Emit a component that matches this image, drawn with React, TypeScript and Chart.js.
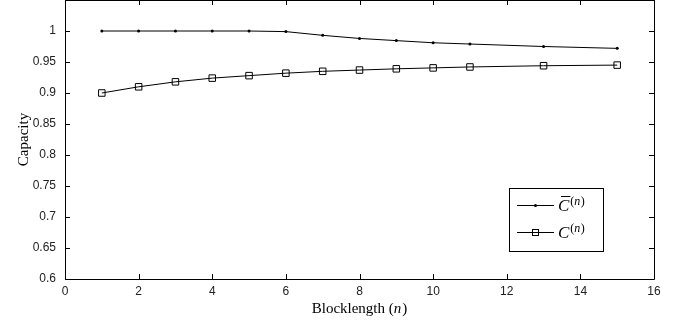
import React, { useEffect, useRef } from 'react';
import { Chart, registerables } from 'chart.js';
Chart.register(...registerables);

const blocklengths = [1, 2, 3, 4, 5, 6, 7, 8, 9, 10, 11, 13, 15];
const cBar = [1.0, 1.0, 1.0, 1.0, 1.0, 0.999, 0.993, 0.988, 0.9845, 0.981, 0.979, 0.975, 0.972];
const cN = [0.9, 0.91, 0.918, 0.924, 0.928, 0.932, 0.935, 0.937, 0.939, 0.9405, 0.942, 0.944, 0.945];
const xTickValues = [0, 2, 4, 6, 8, 10, 12, 14, 16];
const yTickValues = [0.6, 0.65, 0.7, 0.75, 0.8, 0.85, 0.9, 0.95, 1];
const yTickLabels = ['0.6', '0.65', '0.7', '0.75', '0.8', '0.85', '0.9', '0.95', '1'];

const SERIF = '"Liberation Serif", "DejaVu Serif", serif';
const SANS = '"Liberation Sans", Arial, sans-serif';

const framePlugin = {
  id: 'frameTicks',
  afterDraw(chart: any) {
    const ctx = chart.ctx;
    const { left, right, top, bottom } = chart.chartArea;
    const xs = chart.scales.x;
    const ys = chart.scales.y;
    ctx.save();
    ctx.strokeStyle = '#000';
    ctx.lineWidth = 1;
    ctx.beginPath();
    ctx.rect(Math.round(left) + 0.5, Math.round(top) + 0.5, Math.round(right - left), Math.round(bottom - top));
    ctx.stroke();
    const tl = 5;
    ctx.beginPath();
    xTickValues.forEach((v) => {
      const px = Math.round(xs.getPixelForValue(v)) + 0.5;
      ctx.moveTo(px, bottom);
      ctx.lineTo(px, bottom - tl);
      ctx.moveTo(px, top);
      ctx.lineTo(px, top + tl);
    });
    yTickValues.forEach((v) => {
      const py = Math.round(ys.getPixelForValue(v)) + 0.5;
      ctx.moveTo(left, py);
      ctx.lineTo(left + tl, py);
      ctx.moveTo(right, py);
      ctx.lineTo(right - tl, py);
    });
    ctx.stroke();

    // axis titles
    ctx.fillStyle = '#000';
    ctx.textBaseline = 'alphabetic';
    const xt1 = 'Blocklength (';
    const xt2 = 'n';
    const xt3 = ')';
    ctx.font = `15px ${SERIF}`;
    const w1 = ctx.measureText(xt1).width;
    const w3 = ctx.measureText(xt3).width;
    ctx.font = `italic 15px ${SERIF}`;
    const w2 = ctx.measureText(xt2).width + 1;
    const cx = (left + right) / 2;
    const sx = cx - (w1 + w2 + w3) / 2;
    const by = 313;
    ctx.textAlign = 'left';
    ctx.font = `15px ${SERIF}`;
    ctx.fillText(xt1, sx, by);
    ctx.font = `italic 15px ${SERIF}`;
    ctx.fillText(xt2, sx + w1, by);
    ctx.font = `15px ${SERIF}`;
    ctx.fillText(xt3, sx + w1 + w2, by);

    ctx.save();
    ctx.translate(28, (top + bottom) / 2);
    ctx.rotate(-Math.PI / 2);
    ctx.textAlign = 'center';
    ctx.font = `15px ${SERIF}`;
    ctx.fillText('Capacity', 0, 0);
    ctx.restore();

    // legend
    const lx = 509, ly = 188, lw = 94, lh = 63;
    ctx.fillStyle = '#fff';
    ctx.fillRect(lx, ly, lw, lh);
    ctx.strokeStyle = '#000';
    ctx.strokeRect(lx + 0.5, ly + 0.5, lw, lh);
    const rows = [
      { y: 205, label: 'C', bar: true },
      { y: 232, label: 'C', bar: false },
    ];
    rows.forEach((r) => {
      ctx.strokeStyle = '#000';
      ctx.lineWidth = 1;
      ctx.beginPath();
      ctx.moveTo(517, r.y + 0.5);
      ctx.lineTo(554, r.y + 0.5);
      ctx.stroke();
      if (r.bar) {
        ctx.fillStyle = '#000';
        ctx.beginPath();
        ctx.arc(535.5, r.y + 0.5, 1.5, 0, Math.PI * 2);
        ctx.fill();
      } else {
        ctx.strokeRect(532.5, r.y - 2.5, 6, 6);
      }
      ctx.fillStyle = '#000';
      ctx.textAlign = 'left';
      ctx.font = `italic 17px ${SERIF}`;
      const tx = 558;
      const ty = r.y + 6;
      ctx.fillText(r.label, tx, ty);
      const cw = ctx.measureText(r.label).width;
      if (r.bar) {
        ctx.beginPath();
        ctx.moveTo(tx + 3, ty - 14.5);
        ctx.lineTo(tx + cw + 1, ty - 14.5);
        ctx.stroke();
      }
      const sxp = tx + cw + 1;
      ctx.font = `12px ${SERIF}`;
      ctx.fillText('(', sxp, ty - 6);
      const pw = ctx.measureText('(').width;
      ctx.font = `italic 12px ${SERIF}`;
      ctx.fillText('n', sxp + pw, ty - 6);
      const nw = ctx.measureText('n').width;
      ctx.font = `12px ${SERIF}`;
      ctx.fillText(')', sxp + pw + nw + 0.5, ty - 6);
    });
    ctx.restore();
  },
};

export default function App() {
  const ref = useRef<HTMLCanvasElement>(null);
  useEffect(() => {
    if (!ref.current) return;
    const chart = new Chart(ref.current, {
      type: 'line',
      data: {
        datasets: [
          {
            label: 'C̄(n)',
            data: blocklengths.map((x, i) => ({ x, y: cBar[i] })),
            borderColor: '#000',
            backgroundColor: '#000',
            borderWidth: 1,
            pointRadius: 1.5,
            pointStyle: 'circle',
            pointBorderWidth: 0,
            tension: 0,
          },
          {
            label: 'C(n)',
            data: blocklengths.map((x, i) => ({ x, y: cN[i] })),
            borderColor: '#000',
            backgroundColor: 'rgba(0,0,0,0)',
            borderWidth: 1,
            pointRadius: 4.6,
            pointStyle: 'rect',
            pointBorderWidth: 1,
            pointBorderColor: '#000',
            pointBackgroundColor: 'rgba(0,0,0,0)',
            tension: 0,
          },
        ],
      },
      options: {
        animation: false,
        responsive: false,
        maintainAspectRatio: false,
        layout: { autoPadding: false, padding: { left: 0, right: 39, top: 0, bottom: 0 } },
        plugins: { legend: { display: false }, tooltip: { enabled: false } },
        scales: {
          x: {
            type: 'linear',
            min: 0,
            max: 16,
            grid: { display: false, drawTicks: false },
            border: { display: false },
            afterFit: (s: any) => { s.height = 47; s.paddingLeft = 0; s.paddingRight = 0; },
            afterBuildTicks: (s: any) => { s.ticks = xTickValues.map((v) => ({ value: v })); },
            ticks: {
              color: '#222',
              font: { family: SANS, size: 12 },
              padding: 5,
              maxRotation: 0,
              autoSkip: false,
              callback: (v: any) => String(v),
            },
          },
          y: {
            type: 'linear',
            min: 0.6,
            max: 1.05,
            grid: { display: false, drawTicks: false },
            border: { display: false },
            afterFit: (s: any) => { s.width = 65; s.paddingTop = 0; s.paddingBottom = 0; },
            afterBuildTicks: (s: any) => { s.ticks = yTickValues.map((v) => ({ value: v })); },
            ticks: {
              color: '#222',
              font: { family: SANS, size: 12 },
              padding: 9,
              autoSkip: false,
              callback: (v: any) => {
                const i = yTickValues.findIndex((t) => Math.abs(t - v) < 1e-6);
                return i >= 0 ? yTickLabels[i] : '';
              },
            },
          },
        },
      },
      plugins: [framePlugin],
    });
    return () => chart.destroy();
  }, []);
  return (
    <div style={{ position: 'fixed', left: 0, top: 0, width: 693, height: 326, background: '#fff' }}>
      <canvas ref={ref} width={693} height={326} style={{ width: 693, height: 326 }} />
    </div>
  );
}
